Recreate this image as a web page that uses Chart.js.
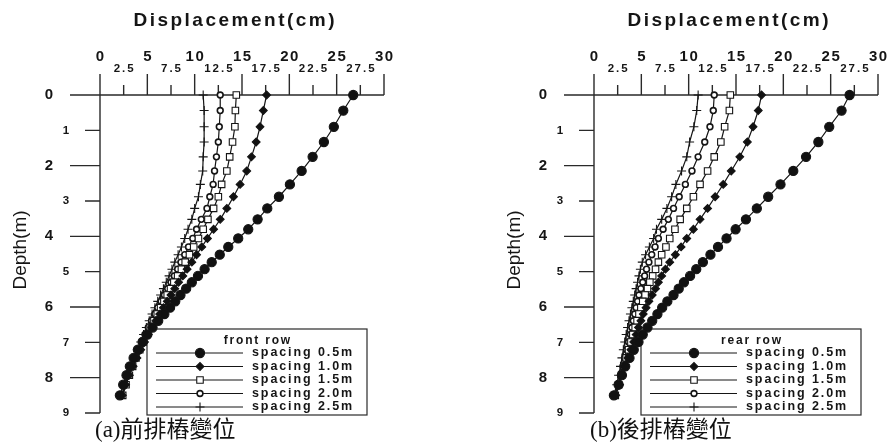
<!DOCTYPE html>
<html lang="zh-Hant">
<head>
<meta charset="UTF-8">
<title>Displacement vs Depth</title>
<script src="https://cdn.jsdelivr.net/npm/chart.js"></script>
<style>
  body { margin: 0; background: #fff; width: 891px; height: 446px; position: relative; overflow: hidden; }
  canvas { position: absolute; top: 0; }
  #chartA { left: 0; }
  #chartB { left: 494px; }
  .caption {
    position: absolute; top: 418px; line-height: 24px;
    font-family: "Liberation Serif", "Noto Sans CJK TC", serif;
    font-size: 23px; color: #111; white-space: nowrap;
  }
</style>
</head>
<body>
<canvas id="chartA" width="397" height="446"></canvas>
<canvas id="chartB" width="397" height="446"></canvas>
<div class="caption" style="left:95px">(a)前排樁變位</div>
<div class="caption" style="left:590px">(b)後排樁變位</div>
<script>
  // node depths (m), shared by every curve
  const depth = [0, 0.44, 0.9, 1.33, 1.75, 2.15, 2.53, 2.88, 3.21, 3.52, 3.8, 4.06, 4.3, 4.52, 4.73, 4.93,
    5.12, 5.3, 5.48, 5.66, 5.84, 6.02, 6.2, 6.39, 6.58, 6.78, 6.99, 7.21, 7.44, 7.68, 7.93, 8.2, 8.5];

  const spacingLabels = ['spacing 0.5m', 'spacing 1.0m', 'spacing 1.5m', 'spacing 2.0m', 'spacing 2.5m'];

  // front row displacement (cm)
  const front05 = [26.75, 25.7, 24.7, 23.65, 22.46, 21.3, 20.06, 18.9, 17.67, 16.65, 15.66, 14.6, 13.55, 12.65, 11.8, 11.05,
    10.35, 9.7, 9.1, 8.5, 7.95, 7.4, 6.8, 6.15, 5.55, 5.0, 4.5, 4.0, 3.55, 3.15, 2.8, 2.45, 2.1];
  const front10 = [17.6, 17.25, 16.9, 16.5, 16.0, 15.5, 14.8, 14.1, 13.4, 12.7, 12.0, 11.35, 10.75, 10.2, 9.7, 9.2,
    8.75, 8.3, 7.9, 7.5, 7.1, 6.7, 6.3, 5.9, 5.5, 5.1, 4.7, 4.3, 3.9, 3.5, 3.1, 2.7, 2.35];
  const front15 = [14.4, 14.3, 14.25, 14.0, 13.7, 13.4, 12.85, 12.5, 12.0, 11.4, 10.9, 10.4, 9.9, 9.45, 9.0, 8.6,
    8.2, 7.8, 7.45, 7.1, 6.75, 6.4, 6.05, 5.7, 5.3, 4.95, 4.55, 4.2, 3.8, 3.45, 3.1, 2.75, 2.4];
  const front20 = [12.7, 12.7, 12.6, 12.5, 12.3, 12.1, 11.95, 11.6, 11.3, 10.7, 10.2, 9.8, 9.35, 8.95, 8.55, 8.2,
    7.85, 7.5, 7.15, 6.8, 6.45, 6.1, 5.8, 5.45, 5.1, 4.75, 4.4, 4.05, 3.7, 3.35, 3.0, 2.65, 2.3];
  const front25 = [10.9, 11.0, 11.0, 11.0, 10.9, 10.85, 10.6, 10.4, 10.0, 9.7, 9.3, 8.95, 8.6, 8.25, 7.9, 7.6,
    7.3, 7.0, 6.7, 6.4, 6.1, 5.8, 5.5, 5.2, 4.9, 4.6, 4.3, 3.95, 3.6, 3.3, 2.95, 2.6, 2.3];

  // rear row displacement (cm)
  const rear05 = [27.0, 26.15, 24.85, 23.7, 22.4, 21.05, 19.7, 18.4, 17.2, 16.05, 14.96, 14.0, 13.1, 12.3, 11.5, 10.8,
    10.15, 9.5, 8.95, 8.4, 7.75, 7.2, 6.7, 6.15, 5.65, 5.15, 4.7, 4.2, 3.75, 3.3, 2.95, 2.6, 2.1];
  const rear10 = [17.7, 17.35, 16.8, 16.2, 15.4, 14.5, 13.65, 12.8, 12.0, 11.2, 10.5, 9.8, 9.2, 8.6, 8.0, 7.55,
    7.15, 6.8, 6.5, 6.15, 5.8, 5.5, 5.2, 4.95, 4.7, 4.45, 4.2, 3.9, 3.6, 3.3, 3.0, 2.7, 2.3];
  const rear15 = [14.4, 14.3, 13.8, 13.4, 12.7, 12.0, 11.2, 10.5, 9.8, 9.1, 8.55, 8.0, 7.6, 7.15, 6.8, 6.5,
    6.2, 5.9, 5.65, 5.4, 5.15, 4.95, 4.75, 4.55, 4.35, 4.1, 3.9, 3.65, 3.4, 3.15, 2.9, 2.6, 2.25];
  const rear20 = [12.7, 12.6, 12.25, 11.7, 11.0, 10.35, 9.65, 9.0, 8.4, 7.85, 7.3, 6.8, 6.45, 6.1, 5.8, 5.55,
    5.35, 5.15, 4.95, 4.75, 4.6, 4.45, 4.3, 4.15, 4.0, 3.85, 3.65, 3.45, 3.25, 3.05, 2.8, 2.55, 2.2];
  const rear25 = [11.0, 10.85, 10.55, 10.1, 9.8, 9.25, 8.65, 8.2, 7.7, 7.15, 6.6, 6.3, 5.85, 5.45, 5.1, 4.9,
    4.75, 4.6, 4.45, 4.3, 4.15, 4.0, 3.85, 3.7, 3.55, 3.4, 3.25, 3.1, 2.95, 2.8, 2.6, 2.4, 2.1];

  // axis ticks
  const xMajorTicks = [0, 5, 10, 15, 20, 25, 30];
  const xMinorTicks = [2.5, 7.5, 12.5, 17.5, 22.5, 27.5];
  const yMajorTicks = [0, 2, 4, 6, 8];
  const yMinorTicks = [1, 3, 5, 7, 9];

  const markers = [
    { pointStyle: 'circle', radius: 4.6, fill: '#111' },
    { pointStyle: 'rectRot', radius: 3.9, fill: '#111' },
    { pointStyle: 'rect', radius: 4.6, fill: '#fff' },
    { pointStyle: 'circle', radius: 2.9, fill: '#fff' },
    { pointStyle: 'cross', radius: 4.5, fill: '#111' }
  ];

  const ink = '#151515';
  const axisInk = '#2a2a2a';
  const sans = '"Liberation Sans", Arial, sans-serif';

  function buildDatasets(series) {
    return series.map((vals, i) => ({
      label: spacingLabels[i],
      data: depth.map((d, k) => ({ x: vals[k], y: d })),
      showLine: true,
      borderColor: ink,
      borderWidth: 1.2,
      backgroundColor: markers[i].fill,
      pointStyle: markers[i].pointStyle,
      pointRadius: markers[i].radius,
      pointBackgroundColor: markers[i].fill,
      pointBorderColor: ink,
      pointBorderWidth: i == 3 ? 1.6 : 1.1,
      clip: false
    }));
  }

  function spacedText(ctx, text, x, y, font, spacing, align) {
    ctx.font = font;
    ctx.letterSpacing = spacing + 'px';
    ctx.textAlign = align || 'center';
    let dx = (align == 'left') ? 0 : spacing / 2;
    ctx.fillText(text, x + dx, y);
    ctx.letterSpacing = '0px';
  }

  // axes, ticks, titles and the boxed legend
  const panelDecor = {
    id: 'panelDecor',
    beforeDatasetsDraw(chart, args, opts) {
      const ctx = chart.ctx;
      const xs = chart.scales.x, ys = chart.scales.y;
      const left = xs.left, right = xs.right, top = ys.top, bottom = ys.bottom;
      ctx.save();
      ctx.strokeStyle = axisInk;
      ctx.fillStyle = ink;
      ctx.lineWidth = 1.4;

      ctx.beginPath();
      ctx.moveTo(left, top); ctx.lineTo(right, top);
      ctx.moveTo(left, top); ctx.lineTo(left, bottom);
      xMajorTicks.forEach(v => {
        const px = xs.getPixelForValue(v);
        ctx.moveTo(px, top); ctx.lineTo(px, top - 21);
      });
      xMinorTicks.forEach(v => {
        const px = xs.getPixelForValue(v);
        ctx.moveTo(px, top); ctx.lineTo(px, top - 10);
      });
      yMajorTicks.forEach(v => {
        const py = ys.getPixelForValue(v);
        ctx.moveTo(left, py); ctx.lineTo(left - 30, py);
      });
      yMinorTicks.forEach(v => {
        const py = ys.getPixelForValue(v);
        ctx.moveTo(left, py); ctx.lineTo(left - 15, py);
      });
      ctx.stroke();

      ctx.textBaseline = 'middle';
      xMajorTicks.forEach(v => {
        spacedText(ctx, String(v), xs.getPixelForValue(v), top - 38, 'bold 15px ' + sans, 1.5);
      });
      xMinorTicks.forEach(v => {
        spacedText(ctx, String(v), xs.getPixelForValue(v), top - 26, 'bold 11.5px ' + sans, 2);
      });
      yMajorTicks.forEach(v => {
        spacedText(ctx, String(v), left - 51, ys.getPixelForValue(v), 'bold 15px ' + sans, 0);
      });
      yMinorTicks.forEach(v => {
        spacedText(ctx, String(v), left - 34, ys.getPixelForValue(v), 'bold 11.5px ' + sans, 0);
      });

      spacedText(ctx, 'Displacement(cm)', left + 134, 21, 'bold 19px ' + sans, 2.5);

      ctx.save();
      ctx.translate(21, 250);
      ctx.rotate(-Math.PI / 2);
      spacedText(ctx, 'Depth(m)', 0, 0, '19px ' + sans, 0);
      ctx.restore();

      // legend box
      const bx = 147, by = 329, bw = 220, bh = 86;
      ctx.fillStyle = '#fff';
      ctx.fillRect(bx, by, bw, bh);
      ctx.lineWidth = 1.2;
      ctx.strokeRect(bx, by, bw, bh);
      ctx.fillStyle = ink;
      spacedText(ctx, opts.title, bx + bw / 2, by + 12, 'bold 12px ' + sans, 1.8);
      chart.data.datasets.forEach((ds, i) => {
        const ly = by + 24 + i * 13.5;
        ctx.strokeStyle = ink;
        ctx.lineWidth = 1;
        ctx.beginPath();
        ctx.moveTo(bx + 9, ly); ctx.lineTo(bx + 96, ly);
        ctx.stroke();
        ctx.fillStyle = ds.pointBackgroundColor;
        ctx.strokeStyle = ink;
        ctx.lineWidth = ds.pointBorderWidth;
        Chart.helpers.drawPoint(ctx, { pointStyle: ds.pointStyle, radius: ds.pointRadius, borderWidth: ds.pointBorderWidth, rotation: 0 }, bx + 53, ly);
        ctx.fillStyle = ink;
        spacedText(ctx, ds.label, bx + 105, ly, 'bold 12.5px ' + sans, 1.9, 'left');
      });
      ctx.restore();
    }
  };

  function makePanel(canvasId, series, legendTitle) {
    const ctx = document.getElementById(canvasId).getContext('2d');
    return new Chart(ctx, {
      type: 'scatter',
      data: { datasets: buildDatasets(series) },
      options: {
        responsive: false,
        animation: false,
        events: [],
        layout: { padding: { left: 100, top: 95, right: 13, bottom: 33 } },
        scales: {
          x: { type: 'linear', min: 0, max: 30, display: false },
          y: { type: 'linear', min: 0, max: 9, reverse: true, display: false }
        },
        elements: { line: { tension: 0 } },
        plugins: {
          legend: { display: false },
          tooltip: { enabled: false },
          panelDecor: { title: legendTitle }
        }
      },
      plugins: [panelDecor]
    });
  }

  makePanel('chartA', [front05, front10, front15, front20, front25], 'front row');
  makePanel('chartB', [rear05, rear10, rear15, rear20, rear25], 'rear row');
</script>
</body>
</html>
